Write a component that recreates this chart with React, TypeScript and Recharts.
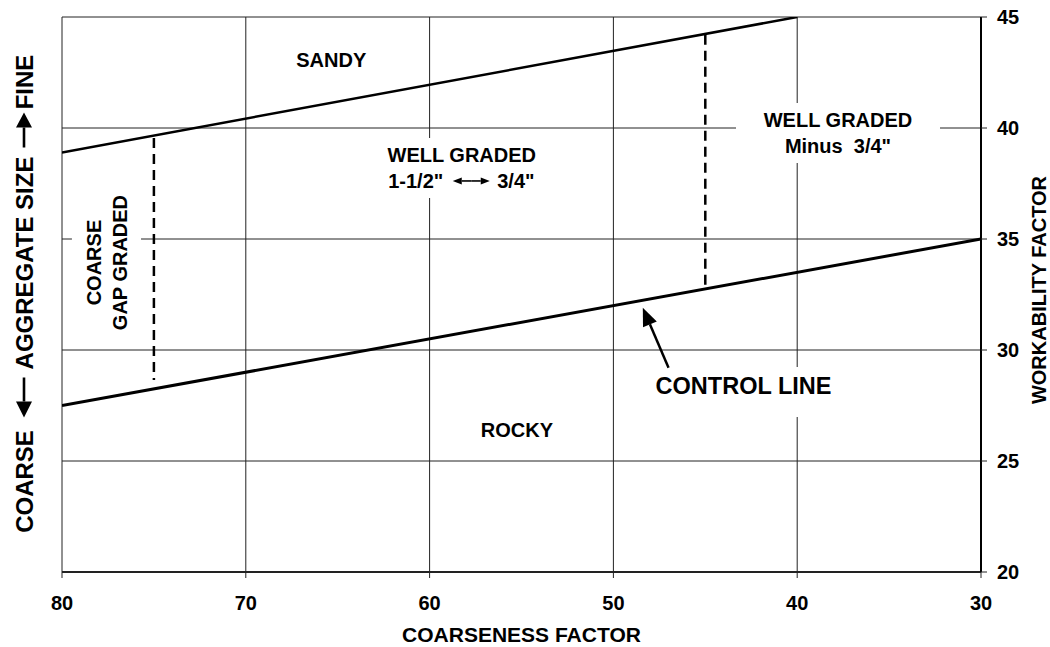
import React from "react";
import {
  LineChart,
  Line,
  XAxis,
  YAxis,
  CartesianGrid,
  ReferenceArea,
  ReferenceLine,
  Label,
} from "recharts";

const FONT = '"Liberation Sans", Arial, Helvetica, sans-serif';

// axes
const X_TICKS = [80, 70, 60, 50, 40, 30];
const Y_TICKS = [20, 25, 30, 35, 40, 45];

// coarseness factor (x) vs workability factor (y)
const UPPER_LINE = [
  { x: 80, y: 38.9 },
  { x: 40, y: 45 },
];
const CONTROL_LINE = [
  { x: 80, y: 27.5 },
  { x: 30, y: 35 },
];
const GAP_DIVIDER = [
  { x: 75, y: 39.55 },
  { x: 75, y: 28.65 },
];
const MINUS_DIVIDER = [
  { x: 45, y: 44.2 },
  { x: 45, y: 32.85 },
];
const ARROW = [
  { x: 47, y: 29.2 },
  { x: 48.4, y: 31.9 },
];

interface Note {
  lines: string[];
  x1: number;
  x2: number;
  y1: number;
  y2: number;
  box: boolean;
  vertical?: boolean;
  size?: number;
  dy?: number;
}

// zone labels, some sit on a white patch that breaks the grid
// "<>" inside a line is drawn as a double-headed arrow
const NOTES: Note[] = [
  { lines: ["SANDY"], x1: 66.4, x2: 64.3, y1: 42.5, y2: 43.6, box: false },
  { lines: ["ROCKY"], x1: 56.3, x2: 54.2, y1: 25.9, y2: 26.9, box: false },
  {
    lines: ["WELL GRADED", "1-1/2\"<>3/4\""],
    x1: 63, x2: 53.5, y1: 36.85, y2: 39.55, box: true,
  },
  {
    lines: ["WELL GRADED", "Minus\u00A0\u00A03/4\""],
    x1: 43.33, x2: 32.23, y1: 38.42, y2: 41.13, box: true,
  },
  {
    lines: ["CONTROL LINE"],
    x1: 47.9, x2: 37.94, y1: 26.98, y2: 29.23, box: true, size: 23.5, dy: -7,
  },
  {
    lines: ["COARSE", "GAP GRADED"],
    x1: 79.46, x2: 75.7, y1: 30.68, y2: 37.2, box: true, vertical: true,
  },
];

// straight arrow along local x, from u0 to u1 (head at u1)
function arrowPath(cx: number, cy: number, u0: number, u1: number, head: number, half: number, sw: number) {
  const dir = Math.sign(u1 - u0);
  const base = u1 - dir * head;
  return (
    <g>
      <line x1={cx + u0} y1={cy} x2={cx + base} y2={cy} stroke="#000" strokeWidth={sw} />
      <polygon
        points={`${cx + u1},${cy} ${cx + base},${cy - half} ${cx + base},${cy + half}`}
        fill="#000"
      />
    </g>
  );
}

function noteLabel(note: Note) {
  // eslint-disable-next-line @typescript-eslint/no-explicit-any
  return (props: any) => {
    const vb = props.viewBox || {};
    const cx = vb.x + vb.width / 2;
    const cy = vb.y + vb.height / 2 + (note.dy || 0);
    const n = note.lines.length;
    const lh = 26;
    const size = note.size || 20;
    const common = {
      fontSize: size,
      fontWeight: 700,
      fontFamily: FONT,
      fill: "#000",
    };
    return (
      <g transform={note.vertical ? `rotate(-90 ${cx} ${cy})` : undefined}>
        {note.lines.map((t, i) => {
          const ly = cy + (i - (n - 1) / 2) * lh;
          if (t.includes("<>")) {
            const [a, b] = t.split("<>");
            const ac = cx + 9.5;
            return (
              <g key={i}>
                <text x={ac - 28} y={ly} dy="0.36em" textAnchor="end" {...common}>
                  {a}
                </text>
                {arrowPath(ac, ly, 0, 18.5, 9, 3.5, 1.6)}
                {arrowPath(ac, ly, 0, -18.5, 9, 3.5, 1.6)}
                <text x={ac + 26} y={ly} dy="0.36em" textAnchor="start" {...common}>
                  {b}
                </text>
              </g>
            );
          }
          return (
            <text key={i} x={cx} y={ly} dy="0.36em" textAnchor="middle" {...common}>
              {t}
            </text>
          );
        })}
      </g>
    );
  };
}

function rightTitle(text: string, dx: number, dy: number, size: number) {
  // eslint-disable-next-line @typescript-eslint/no-explicit-any
  return (props: any) => {
    const vb = props.viewBox || {};
    const cx = vb.x + vb.width / 2 + dx;
    const cy = vb.y + vb.height / 2 + dy;
    return (
      <text
        x={cx}
        y={cy}
        dy="0.36em"
        textAnchor="middle"
        fontSize={size}
        fontWeight={700}
        fontFamily={FONT}
        fill="#000"
        transform={`rotate(-90 ${cx} ${cy})`}
      >
        {text}
      </text>
    );
  };
}

// "COARSE <- AGGREGATE SIZE -> FINE", laid along the left edge
// eslint-disable-next-line @typescript-eslint/no-explicit-any
function leftTitle(props: any) {
  const vb = props.viewBox || {};
  const cx = vb.x + vb.width / 2 - 7;
  const cy = vb.y + vb.height / 2;
  const common = { fontSize: 24, fontWeight: 700, fontFamily: FONT, fill: "#000" };
  return (
    <g transform={`rotate(-90 ${cx} ${cy})`}>
      <text x={cx - 187} y={cy} dy="0.36em" textAnchor="middle" {...common}>
        COARSE
      </text>
      {arrowPath(cx, cy, -83, -123, 16, 8, 2.6)}
      <text x={cx + 31.5} y={cy} dy="0.36em" textAnchor="middle" {...common}>
        AGGREGATE SIZE
      </text>
      {arrowPath(cx, cy, 147, 182, 15, 8, 2.6)}
      <text x={cx + 212.5} y={cy} dy="0.36em" textAnchor="middle" {...common}>
        FINE
      </text>
    </g>
  );
}

// eslint-disable-next-line @typescript-eslint/no-explicit-any
function ArrowShape(p: any) {
  const { x1, y1, x2, y2 } = p;
  const ang = Math.atan2(y2 - y1, x2 - x1);
  const len = 18;
  const half = 7.5;
  const bx = x2 - len * Math.cos(ang);
  const by = y2 - len * Math.sin(ang);
  const px = -Math.sin(ang);
  const py = Math.cos(ang);
  return (
    <g>
      <line x1={x1} y1={y1} x2={bx} y2={by} stroke="#000" strokeWidth={2.5} />
      <polygon
        points={`${x2},${y2} ${bx + half * px},${by + half * py} ${bx - half * px},${by - half * py}`}
        fill="#000"
      />
    </g>
  );
}

const tickStyle = { fill: "#000", fontSize: 20, fontWeight: 700, fontFamily: FONT };

export default function App() {
  return (
    <div style={{ position: "absolute", left: 0, top: 0, background: "#fff", fontFamily: FONT }}>
      <LineChart width={1050} height={647} margin={{ top: 17, right: 0, bottom: 0, left: 0 }}>
        <CartesianGrid stroke="#222" strokeWidth={1} yAxisId="r" />
        <XAxis
          type="number"
          dataKey="x"
          domain={[30, 80]}
          reversed
          ticks={X_TICKS}
          allowDataOverflow
          height={75}
          tickSize={6}
          tickMargin={18}
          tick={tickStyle}
          axisLine={{ stroke: "#222", strokeWidth: 2 }}
          tickLine={{ stroke: "#222" }}
        >
          <Label
            value="COARSENESS FACTOR"
            position="insideBottom"
            offset={5}
            fill="#000"
            fontSize={21}
            fontWeight={700}
            fontFamily={FONT}
          />
        </XAxis>
        <YAxis
          yAxisId="l"
          orientation="left"
          type="number"
          domain={[20, 45]}
          width={62}
          tick={false}
          axisLine={false}
          tickLine={false}
          label={{ content: leftTitle }}
        />
        <YAxis
          yAxisId="r"
          orientation="right"
          type="number"
          domain={[20, 45]}
          ticks={Y_TICKS}
          allowDataOverflow
          width={69}
          tickSize={6}
          tickMargin={10}
          tick={tickStyle}
          axisLine={{ stroke: "#000", strokeWidth: 2 }}
          tickLine={{ stroke: "#222" }}
          label={{ content: rightTitle("WORKABILITY FACTOR", 23, -4.5, 20) }}
        />
        {NOTES.map((n, i) => (
          <ReferenceArea
            key={i}
            yAxisId="r"
            x1={n.x1}
            x2={n.x2}
            y1={n.y1}
            y2={n.y2}
            fill="#fff"
            fillOpacity={n.box ? 1 : 0}
            stroke="none"
            label={noteLabel(n)}
          />
        ))}
        <Line
          yAxisId="r"
          data={UPPER_LINE}
          dataKey="y"
          type="linear"
          stroke="#000"
          strokeWidth={2.5}
          dot={false}
          activeDot={false}
          isAnimationActive={false}
        />
        <Line
          yAxisId="r"
          data={CONTROL_LINE}
          dataKey="y"
          type="linear"
          stroke="#000"
          strokeWidth={3}
          dot={false}
          activeDot={false}
          isAnimationActive={false}
        />
        <Line
          yAxisId="r"
          data={GAP_DIVIDER}
          dataKey="y"
          type="linear"
          stroke="#000"
          strokeWidth={2.5}
          strokeDasharray="10 6"
          dot={false}
          activeDot={false}
          isAnimationActive={false}
        />
        <Line
          yAxisId="r"
          data={MINUS_DIVIDER}
          dataKey="y"
          type="linear"
          stroke="#000"
          strokeWidth={2.5}
          strokeDasharray="10 6"
          dot={false}
          activeDot={false}
          isAnimationActive={false}
        />
        <ReferenceLine yAxisId="r" segment={ARROW} shape={ArrowShape} />
      </LineChart>
    </div>
  );
}
